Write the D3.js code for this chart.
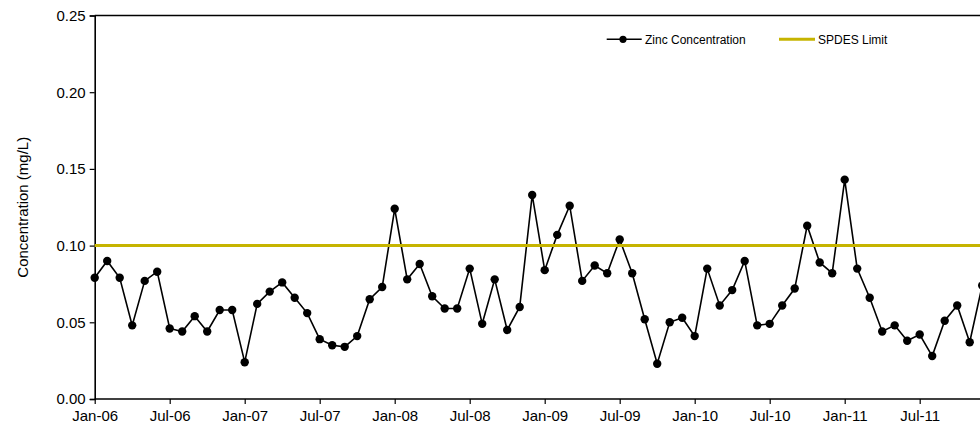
<!DOCTYPE html>
<html><head><meta charset="utf-8">
<script src="https://cdn.jsdelivr.net/npm/d3@7"></script>
<style>
html,body{margin:0;padding:0;background:#fff;overflow:hidden;}
text{font-family:"Liberation Sans",Arial,sans-serif;fill:#000;}
</style></head>
<body>
<svg id="c" width="980" height="429"></svg>
<script>
// month index 0 = Jan-06
const zinc = [0.079,0.090,0.079,0.048,0.077,0.083,0.046,0.044,0.054,0.044,0.058,0.058,
0.024,0.062,0.070,0.076,0.066,0.056,0.039,0.035,0.034,0.041,0.065,0.073,
0.124,0.078,0.088,0.067,0.059,0.059,0.085,0.049,0.078,0.045,0.060,0.133,
0.084,0.107,0.126,0.077,0.087,0.082,0.104,0.082,0.052,0.023,0.050,0.053,
0.041,0.085,0.061,0.071,0.090,0.048,0.049,0.061,0.072,0.113,0.089,0.082,
0.143,0.085,0.066,0.044,0.048,0.038,0.042,0.028,0.051,0.061,0.037,0.074];
const limitValue = 0.10;
const xTickMonths = [0,6,12,18,24,30,36,42,48,54,60,66];
const xTickLabels = ["Jan-06","Jul-06","Jan-07","Jul-07","Jan-08","Jul-08","Jan-09","Jul-09","Jan-10","Jul-10","Jan-11","Jul-11"];
const yTicks = [0,0.05,0.10,0.15,0.20,0.25];

const svg = d3.select("#c");
const L = 94.7, T = 15.5, B = 399;
const x = d3.scaleLinear().domain([0,72]).range([L, L+72*12.5]);
const y = d3.scaleLinear().domain([0,0.25]).range([B, T]);

// y axis
const ya = svg.append("g").attr("transform",`translate(${L},0)`)
  .call(d3.axisLeft(y).tickValues(yTicks).tickFormat(d3.format(".2f")).tickSize(5).tickPadding(4));
ya.select(".domain").attr("stroke","#000").attr("stroke-width",1.6);
ya.selectAll(".tick line").attr("stroke","#000").attr("stroke-width",1.2);
ya.selectAll(".tick text").style("font-size","15px");

// x axis
const xa = svg.append("g").attr("transform",`translate(0,${B})`)
  .call(d3.axisBottom(x).tickValues(xTickMonths).tickFormat((d,i)=>xTickLabels[i]).tickSize(5).tickSizeOuter(0).tickPadding(6));
xa.select(".domain").attr("d",`M${L},0H980`).attr("stroke","#000").attr("stroke-width",1.6);
xa.selectAll(".tick line").attr("stroke","#000").attr("stroke-width",1.2);
xa.selectAll(".tick text").style("font-size","15px");

// top border
svg.append("line").attr("x1",L).attr("x2",980).attr("y1",y(0.25)).attr("y2",y(0.25))
  .attr("stroke","#000").attr("stroke-width",1.6);

// y title
svg.append("text").attr("transform",`translate(27.5,${(T+B)/2}) rotate(-90)`)
  .attr("text-anchor","middle").style("font-size","15px").text("Concentration (mg/L)");

// zinc series
const line = d3.line().x((d,i)=>x(i)).y(d=>y(d));
svg.append("path").datum(zinc).attr("d",line).attr("fill","none").attr("stroke","#000").attr("stroke-width",1.6);
svg.append("g").selectAll("circle").data(zinc).join("circle")
  .attr("cx",(d,i)=>x(i)).attr("cy",d=>y(d)).attr("r",4.2).attr("fill","#000");

// limit line
svg.append("line").attr("x1",L).attr("x2",980).attr("y1",y(limitValue)).attr("y2",y(limitValue))
  .attr("stroke","#c6b400").attr("stroke-width",3);

// legend
const lg = svg.append("g");
lg.append("line").attr("x1",606.7).attr("x2",641.7).attr("y1",39.3).attr("y2",39.3).attr("stroke","#000").attr("stroke-width",1.6);
lg.append("circle").attr("cx",623).attr("cy",39.3).attr("r",3.6).attr("fill","#000");
lg.append("text").attr("x",645).attr("y",39.3).attr("dy","0.35em").style("font-size","12px").text("Zinc Concentration");
lg.append("line").attr("x1",779).attr("x2",815).attr("y1",39.3).attr("y2",39.3).attr("stroke","#c6b400").attr("stroke-width",3);
lg.append("text").attr("x",818).attr("y",39.3).attr("dy","0.35em").style("font-size","12px").text("SPDES Limit");
</script>
</body></html>
